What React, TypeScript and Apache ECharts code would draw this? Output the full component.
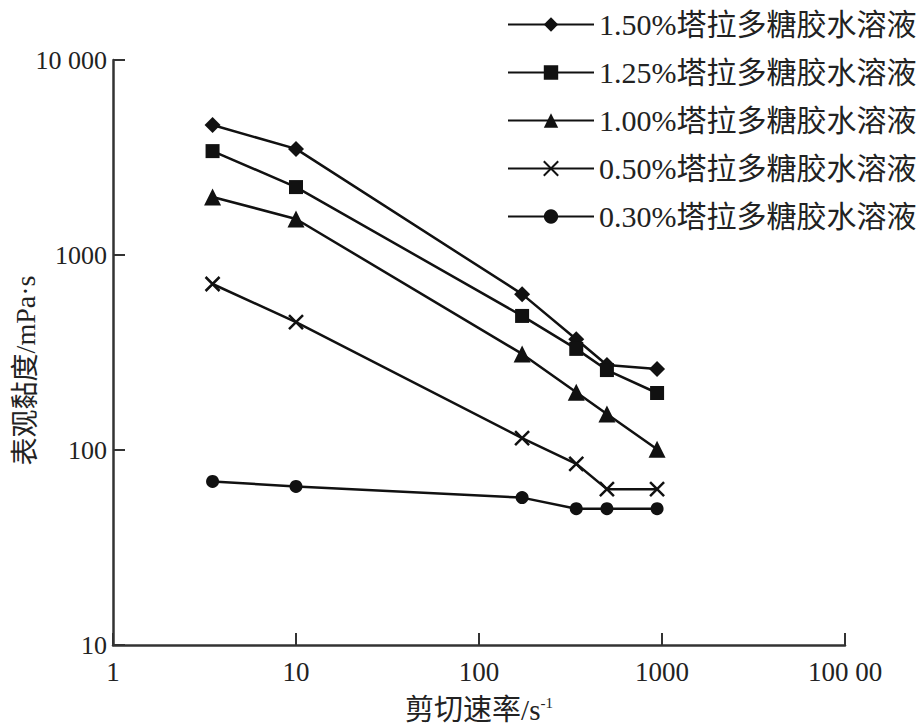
import React, { useEffect, useRef } from "react";
import * as echarts from "echarts";

const shearRates = [3.5, 10, 172, 340, 500, 940];
const seriesNames = [
  "1.50%塔拉多糖胶水溶液",
  "1.25%塔拉多糖胶水溶液",
  "1.00%塔拉多糖胶水溶液",
  "0.50%塔拉多糖胶水溶液",
  "0.30%塔拉多糖胶水溶液",
];
const v150 = [4640, 3500, 630, 370, 273, 260];
const v125 = [3410, 2230, 487, 330, 257, 196];
const v100 = [1985, 1530, 311, 198, 153, 101];
const v050 = [710, 453, 115, 85, 63, 63];
const v030 = [69, 65, 57, 50, 50, 50];
const xTickLabels: Record<number, string> = { 1: "1", 10: "10", 100: "100", 1000: "1000", 10000: "100 00" };
const yTickLabels: Record<number, string> = { 10: "10", 100: "100", 1000: "1000", 10000: "10 000" };

const symbols = [
  "diamond",
  "rect",
  "triangle",
  "path://M0,0 L10,10 M10,0 L0,10",
  "circle",
];
const symbolSizes = [16, 14, 17, 14, 13];

export default function App() {
  const ref = useRef<HTMLDivElement>(null);
  useEffect(() => {
    if (!ref.current) return;
    const chart = echarts.init(ref.current, undefined, { renderer: "svg" });
    const allValues = [v150, v125, v100, v050, v030];
    const font = "'Liberation Serif', 'Times New Roman', 'Noto Sans CJK SC', serif";
    chart.setOption({
      animation: false,
      backgroundColor: "#fff",
      textStyle: { fontFamily: font, color: "#222" },
      grid: { left: 113, top: 60, width: 732, height: 585, containLabel: false, outerBoundsMode: "none" },
      legend: {
        orient: "vertical",
        left: 502,
        top: 4,
        itemWidth: 86,
        itemHeight: 18,
        itemGap: 17,
        textStyle: { fontSize: 30, fontFamily: font, color: "#222", lineHeight: 31 },
        data: seriesNames,
      },
      xAxis: {
        type: "log",
        logBase: 10,
        min: 1,
        max: 10000,
        name: "剪切速率/s{sup|-1}",
        nameLocation: "middle",
        nameGap: 50,
        nameMoveOverlap: false,
        nameTextStyle: {
          fontSize: 29,
          fontFamily: font,
          color: "#222",
          rich: { sup: { fontSize: 15, verticalAlign: "top", padding: [0, 0, 12, 0], fontFamily: font, color: "#222" } },
        },
        axisLine: { lineStyle: { color: "#333", width: 2.5 } },
        axisTick: { inside: true, length: 12, lineStyle: { color: "#333", width: 2 } },
        minorTick: { show: false },
        splitLine: { show: false },
        axisLabel: {
          fontSize: 27,
          color: "#222",
          margin: 13,
          formatter: (v: number) => xTickLabels[Math.round(v)] ?? "",
        },
      },
      yAxis: {
        type: "log",
        logBase: 10,
        min: 10,
        max: 10000,
        name: "表观黏度/mPa·s",
        nameLocation: "middle",
        nameGap: 74,
        nameMoveOverlap: false,
        nameRotate: 90,
        nameTextStyle: { fontSize: 28, fontFamily: font, color: "#222", padding: [0, 0, 0, -36] },
        axisLine: { lineStyle: { color: "#333", width: 2.5 } },
        axisTick: { inside: true, length: 12, lineStyle: { color: "#333", width: 2 } },
        splitLine: { show: false },
        axisLabel: {
          fontSize: 26,
          color: "#222",
          margin: 6,
          formatter: (v: number) => yTickLabels[Math.round(v)] ?? "",
        },
      },
      series: seriesNames.map((name, i) => ({
        name,
        type: "line",
        data: shearRates.map((x, j) => [x, allValues[i][j]]),
        symbol: symbols[i],
        symbolSize: symbolSizes[i],
        showSymbol: true,
        lineStyle: { color: "#111", width: 2.5 },
        itemStyle: { color: "#111", borderColor: "#111", borderWidth: i === 3 ? 2.5 : 0 },
      })),
    });
    return () => chart.dispose();
  }, []);
  return (
    <div
      ref={ref}
      style={{ position: "fixed", left: 0, top: 0, width: 919, height: 728, background: "#fff" }}
    />
  );
}
